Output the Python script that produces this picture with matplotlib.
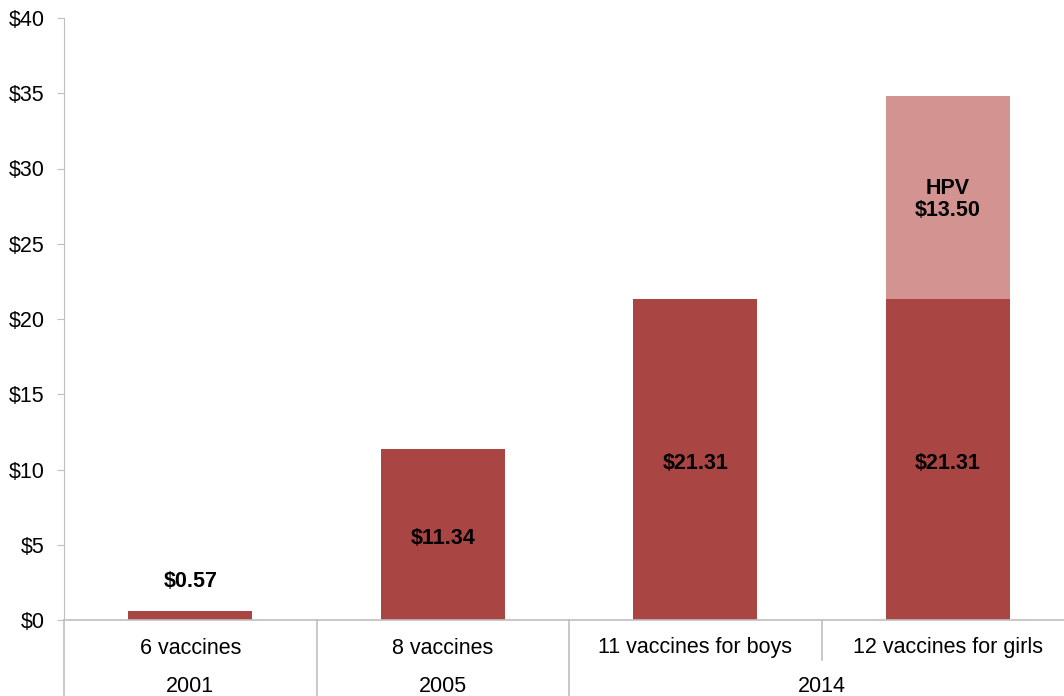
import numpy as np
import matplotlib.pyplot as plt

plt.rcParams['font.family'] = ['Liberation Sans', 'DejaVu Sans']

# 데이터
categories = ["6 vaccines", "8 vaccines", "11 vaccines for boys", "12 vaccines for girls"]
years = ["2001", "2005", "2014"]
year_span = [(0, 0), (1, 1), (2, 3)]   # 연도별 카테고리 범위
base_cost = [0.57, 11.34, 21.31, 21.31]
hpv_cost = [0, 0, 0, 13.50]
yticks = [0, 5, 10, 15, 20, 25, 30, 35, 40]

dark = "#a94644"
light = "#d39391"
grid_c = "#bfbfbf"
fs = 15.5

fig = plt.figure(figsize=(10.64, 6.96), dpi=100)
ax = fig.add_axes([64/1064, 76/696, 1010/1064, 602/696])

x = np.arange(len(categories))
ax.bar(x, base_cost, width=0.49, color=dark)
ax.bar(x, hpv_cost, width=0.49, bottom=base_cost, color=light)

ax.set_xlim(-0.5, len(categories) - 0.5)
ax.set_ylim(0, 40)
ax.set_yticks(yticks)
ax.set_yticklabels(["$%d" % v for v in yticks], fontsize=fs)
ax.tick_params(axis='y', length=5, color=grid_c, pad=9)
ax.set_xticks([])

for s in ["top", "right", "bottom"]:
    ax.spines[s].set_visible(False)
ax.spines["left"].set_color(grid_c)
ax.axhline(0, color=grid_c, lw=1.2, clip_on=False)

# 값 라벨
for i, v in enumerate(base_cost):
    if v < 3:
        ax.text(i, v + 2.0, "$%.2f" % v, ha='center', va='center', fontsize=fs, fontweight='bold')
    else:
        ax.text(i, v / 2 - 0.25, "$%.2f" % v, ha='center', va='center', fontsize=fs, fontweight='bold')
for i, v in enumerate(hpv_cost):
    if v > 0:
        ax.text(i, base_cost[i] + v / 2 - 0.1, "HPV\n$%.2f" % v, ha='center', va='center',
                fontsize=fs, fontweight='bold', linespacing=1.05)

# 하단 카테고리 / 연도 라벨
trans = ax.get_xaxis_transform()
for i, c in enumerate(categories):
    ax.text(i, -28/602, c, transform=trans, ha='center', va='center', fontsize=fs)
for (a, b), yr in zip(year_span, years):
    ax.text((a + b) / 2, -67/602, yr, transform=trans, ha='center', va='center', fontsize=fs)

# 구분선
bottom = -80/602
ax.plot([-0.5, -0.5], [0, bottom], transform=trans, color=grid_c, lw=1.2, clip_on=False)
ax.plot([0.5, 0.5], [0, bottom], transform=trans, color=grid_c, lw=1.2, clip_on=False)
ax.plot([1.5, 1.5], [0, bottom], transform=trans, color=grid_c, lw=1.2, clip_on=False)
ax.plot([2.5, 2.5], [0, -40/602], transform=trans, color=grid_c, lw=1.2, clip_on=False)

fig.savefig("out.png", dpi=100)
